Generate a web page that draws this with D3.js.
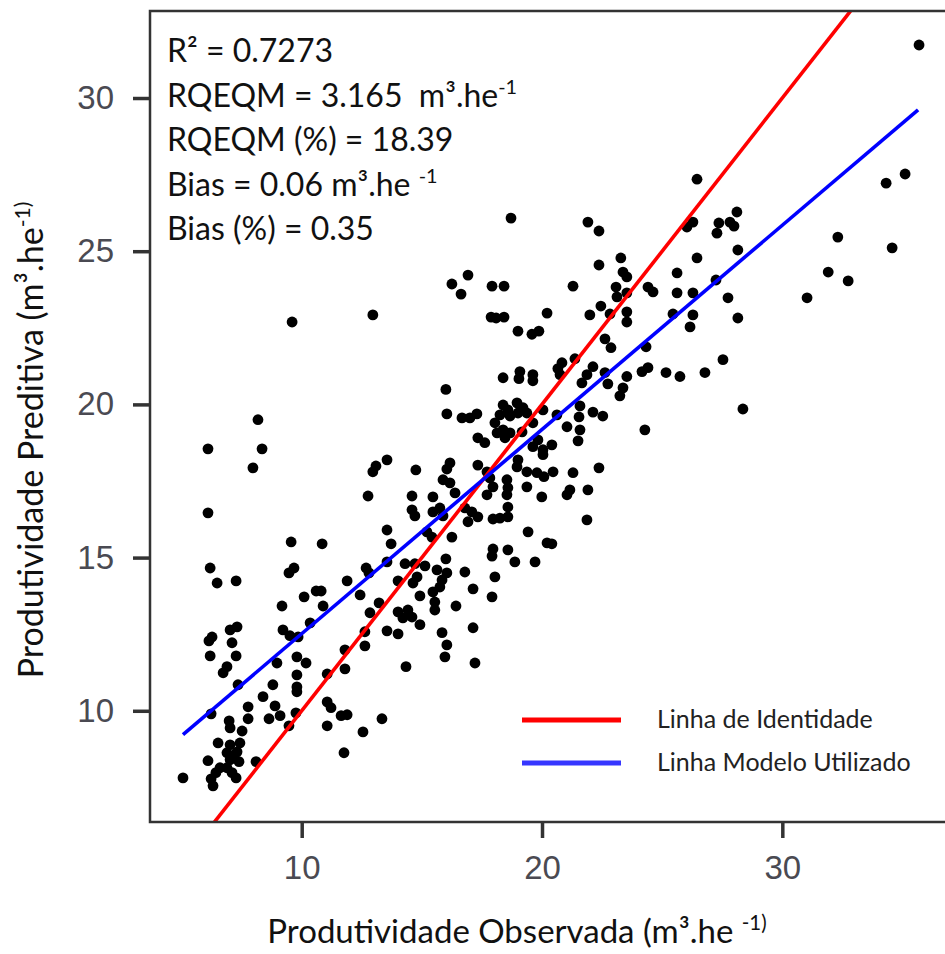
<!DOCTYPE html>
<html>
<head>
<meta charset="utf-8">
<script src="https://cdn.jsdelivr.net/npm/d3@7/dist/d3.min.js"></script>
<style>
  body { margin: 0; background: #fff; }
  text { white-space: pre; }
</style>
</head>
<body>
<script>
// tick values
const xTicks = [10, 20, 30];
const yTicks = [10, 15, 20, 25, 30];

const points = [
  [6.19,14.66],[6.48,14.17],[7.27,14.24],[9.68,14.66],[9.47,14.50],[10.10,13.72],[10.60,13.91],[10.81,13.91],
  [9.18,13.42],[10.89,13.42],[11.89,14.24],[12.68,14.66],[12.80,14.50],[13.55,14.86],[14.01,14.24],[12.43,13.78],
  [13.22,13.52],[12.84,13.20],[14.01,13.23],[12.63,12.58],[13.55,12.61],[14.01,12.51],[12.63,12.12],[7.31,12.74],
  [7.02,12.64],[6.27,12.41],[6.14,12.28],[7.10,12.22],[6.19,11.79],[7.27,11.79],[6.89,11.44],[6.73,11.24],
  [9.22,12.64],[9.51,12.45],[9.85,12.41],[10.35,12.87],[9.80,11.76],[10.18,11.56],[8.97,11.56],[9.80,11.17],
  [9.80,10.78],[9.80,10.62],[8.80,10.85],[8.39,10.46],[8.89,10.16],[8.64,9.74],[9.10,9.84],[9.76,9.93],
  [9.47,9.51],[11.06,11.20],[11.80,11.99],[11.80,11.37],[11.06,10.29],[11.22,10.10],[11.06,9.51],[11.64,9.84],
  [11.89,9.87],[12.55,9.31],[11.76,8.63],[13.34,9.74],[7.35,10.85],[7.77,10.13],[6.23,9.90],[6.98,9.67],
  [7.77,9.74],[7.02,9.44],[7.52,9.34],[6.52,8.95],[7.02,8.89],[7.43,8.95],[7.31,8.66],[6.89,8.63],
  [6.10,8.37],[7.02,8.40],[7.39,8.34],[8.10,8.34],[6.60,8.14],[6.89,8.14],[6.43,7.98],[7.10,7.98],
  [7.27,7.81],[6.23,7.78],[5.06,7.81],[6.31,7.55],[7.14,8.50],
  [9.60,22.69],[12.96,22.92],[8.18,19.50],[6.10,18.55],[8.35,18.55],[7.97,17.93],[6.10,16.46],[9.56,15.51],
  [10.85,15.45],[13.55,18.19],[13.09,17.99],[12.96,17.80],[12.76,17.01],[13.55,15.90],[13.72,15.45],
  [18.71,26.08],[21.91,25.95],[22.37,25.66],[23.28,24.78],[22.37,24.55],[23.37,24.32],[23.53,24.16],[16.92,24.22],
  [16.25,23.93],[16.63,23.60],[17.92,23.86],[18.42,23.86],[21.29,23.86],[23.08,23.83],[23.12,23.51],[23.53,23.64],
  [24.41,23.83],[17.88,22.85],[18.09,22.82],[18.42,22.85],[20.21,22.98],[19.00,22.39],[19.58,22.29],[19.87,22.39],
  [22.45,23.21],[21.99,22.92],[22.83,22.95],[23.53,23.02],[23.53,22.69],[22.62,22.14],[22.87,21.85],[21.37,21.49],
  [20.83,21.36],[20.66,21.17],[20.75,20.97],[22.12,21.23],[21.87,20.97],[22.62,21.04],[23.53,20.91],[24.16,21.07],
  [24.41,21.20],[18.38,20.87],[19.08,21.07],[19.04,20.84],[19.62,20.97],[19.62,20.77],
  [16.00,20.49],[21.66,20.70],[22.74,20.67],[23.37,20.54],[23.24,20.28],[16.04,19.69],[16.67,19.56],[17.00,19.56],
  [17.29,19.69],[18.38,19.98],[18.58,19.82],[18.96,20.05],[19.21,19.89],[18.25,19.66],[18.67,19.62],[19.00,19.72],
  [19.37,19.72],[20.04,19.82],[18.04,19.40],[18.38,19.17],[18.13,19.07],[18.67,19.07],[18.46,18.91],[19.17,19.10],
  [19.62,19.40],[17.33,18.91],[17.62,18.75],[20.62,19.66],[21.04,19.27],[21.58,19.95],[21.54,19.59],[22.12,19.75],
  [22.53,19.62],[21.58,19.17],[21.50,18.81],[24.28,19.17],[19.83,18.84],[19.62,18.62],[20.04,18.52],[20.41,18.68],
  [20.04,18.36],[14.75,17.86],[16.17,18.09],[16.04,17.89],[17.33,18.02],[17.71,17.80],[19.00,18.19],[18.96,17.96],
  [19.37,17.80],[19.79,17.77],[20.08,17.64],[20.46,17.80],[21.29,17.77],[22.37,17.93],[15.88,17.54],[16.17,17.44],
  [17.83,17.60],[17.96,17.31],[18.54,17.54],[18.58,17.28],[18.54,17.05],[19.37,17.31],[19.99,16.98],[21.16,17.21],
  [21.04,17.05],[21.91,17.21],[16.38,17.11],[17.71,17.05],[14.59,17.01],[15.46,16.98],[14.59,16.56],[14.71,16.36],
  [15.46,16.49],[15.75,16.62],[15.88,16.36],[16.79,16.62],[17.08,16.49],[17.33,16.33],[16.92,16.17],[17.96,16.26],
  [18.25,16.29],[18.58,16.33],[18.58,16.65],[21.87,16.23],[15.21,15.84],[15.42,15.67],[16.25,15.67],[19.42,15.84],
  [20.21,15.48],[20.41,15.45],[17.96,15.28],[17.92,15.05],[18.58,15.25],[18.87,14.86],[19.71,14.86],[16.00,14.96],
  [14.30,14.80],[14.71,14.80],[15.13,14.73],[15.63,14.60],[16.04,14.50],[16.79,14.53],[14.80,14.37],[14.63,14.17],
  [15.84,14.27],[15.75,14.04],[15.46,13.88],[14.92,13.75],[18.04,14.37],[17.13,13.98],[15.54,13.55],[15.54,13.29],
  [16.42,13.42],[17.92,13.72],[14.42,13.29],[14.59,13.06],[14.21,13.03],[14.92,12.81],[15.84,12.55],[17.13,12.71],
  [16.04,12.15],[15.96,11.76],[17.21,11.56],[14.34,11.44],
  [35.69,31.73],[26.45,27.35],[34.32,27.22],[35.11,27.52],[32.31,25.46],[34.57,25.11],[31.91,24.32],[32.74,24.03],
  [31.03,23.48],[26.03,25.79],[26.28,25.95],[28.11,26.28],[27.36,25.92],[27.28,25.59],[27.82,25.95],[27.99,25.82],
  [28.15,25.04],[26.45,24.78],[25.62,24.29],[27.24,24.06],[24.62,23.67],[25.62,23.64],[26.28,23.64],[27.74,23.48],
  [25.45,22.95],[26.28,22.92],[26.16,22.53],[28.15,22.82],[24.33,21.88],[25.16,21.04],[25.74,20.91],[26.78,21.04],
  [27.53,21.46],[28.36,19.85]
];

// fitted model line (predicted = a + b * observed) and its drawn extent
const fitIntercept = 5.85;
const fitSlope = 0.6666;
const fitRange = [5.06, 35.65];

// "^" marks the start of a superscript part
const statLines = [
  "R² = 0.7273",
  "RQEQM = 3.165  m³.he^-1",
  "RQEQM (%) = 18.39",
  "Bias = 0.06 m³.he ^-1",
  "Bias (%) = 0.35"
];

const legendLabels = ["Linha de Identidade", "Linha Modelo Utilizado"];
const legendColors = ["#ff0000", "#3636ff"];

const xTitle = "Produtividade Observada (m³.he ^-1)";
const yTitle = "Produtividade Preditiva (m³.he^-1)";

// layout
const width = 945, height = 954;
const plot = { left: 150, top: 11, right: 945, bottom: 822 };
const textFont = "Lato, 'Open Sans', sans-serif";
const tickFont = "'Liberation Sans', Arial, sans-serif";

const svg = d3.select("body").append("svg")
  .attr("width", width)
  .attr("height", height);

const x = d3.scaleLinear().domain([3.687, 36.77]).range([plot.left, plot.right]);
const y = d3.scaleLinear().domain([6.37, 32.84]).range([plot.bottom, plot.top]);

svg.append("clipPath").attr("id", "plot-clip")
  .append("rect")
  .attr("x", plot.left).attr("y", plot.top)
  .attr("width", plot.right - plot.left).attr("height", plot.bottom - plot.top);

// writes "abc^sup" as text with a raised tail
function addRichText(sel, str, size) {
  const parts = str.split("^");
  sel.append("tspan").text(parts[0]);
  if (parts.length > 1) {
    sel.append("tspan")
      .attr("font-size", size * 0.62)
      .attr("dy", -size * 0.38)
      .text(parts[1]);
    sel.append("tspan").attr("dy", size * 0.38).text("");
  }
}

// points
svg.append("g")
  .attr("clip-path", "url(#plot-clip)")
  .selectAll("circle")
  .data(points)
  .join("circle")
  .attr("cx", d => x(d[0]))
  .attr("cy", d => y(d[1]))
  .attr("r", 5.4)
  .attr("fill", "#000");

// identity line and model line
const lines = svg.append("g").attr("clip-path", "url(#plot-clip)");
const line = d3.line().x(d => x(d[0])).y(d => y(d[1]));
lines.append("path")
  .attr("d", line([[x.domain()[0], x.domain()[0]], [x.domain()[1], x.domain()[1]]]))
  .attr("stroke", "#ff0000")
  .attr("stroke-width", 3.6)
  .attr("fill", "none");
lines.append("path")
  .attr("d", line(fitRange.map(v => [v, fitIntercept + fitSlope * v])))
  .attr("stroke", "#0000ff")
  .attr("stroke-width", 3.6)
  .attr("fill", "none");

// frame (right side falls outside the picture)
svg.append("path")
  .attr("d", `M${plot.right + 10},${plot.top}H${plot.left}V${plot.bottom}H${plot.right + 10}`)
  .attr("fill", "none")
  .attr("stroke", "#333")
  .attr("stroke-width", 2.5);

// axes
const yAxis = svg.append("g")
  .attr("transform", `translate(${plot.left},0)`)
  .call(d3.axisLeft(y).tickValues(yTicks).tickSize(17).tickPadding(19));
const xAxis = svg.append("g")
  .attr("transform", `translate(0,${plot.bottom})`)
  .call(d3.axisBottom(x).tickValues(xTicks).tickSize(16).tickPadding(18));
[xAxis, yAxis].forEach(a => {
  a.select(".domain").remove();
  a.selectAll(".tick line").attr("stroke", "#333").attr("stroke-width", 3.5);
  a.selectAll(".tick text")
    .attr("fill", "#4a4a52")
    .attr("font-family", tickFont)
    .attr("font-size", 33);
});

// statistics block
const stats = svg.append("g").attr("font-family", textFont).attr("fill", "#111");
statLines.forEach((s, i) => {
  const t = stats.append("text")
    .attr("x", 167)
    .attr("y", 62 + i * 44.5)
    .attr("font-size", 32);
  addRichText(t, s, 32);
});

// legend
const legend = svg.append("g").attr("font-family", textFont);
legendLabels.forEach((lab, i) => {
  const yy = 720 + i * 43;
  legend.append("line")
    .attr("x1", 522).attr("x2", 621)
    .attr("y1", yy).attr("y2", yy)
    .attr("stroke", legendColors[i])
    .attr("stroke-width", 5);
  legend.append("text")
    .attr("x", 657).attr("y", yy + 8)
    .attr("font-size", 25)
    .attr("fill", "#222")
    .text(lab);
});

// axis titles
const xt = svg.append("text")
  .attr("x", 517).attr("y", 943)
  .attr("text-anchor", "middle")
  .attr("font-family", textFont)
  .attr("font-size", 33)
  .attr("fill", "#111");
addRichText(xt, xTitle, 33);

const yt = svg.append("text")
  .attr("transform", "translate(43,440) rotate(-90)")
  .attr("text-anchor", "middle")
  .attr("font-family", textFont)
  .attr("font-size", 34)
  .attr("fill", "#111");
addRichText(yt, yTitle, 34);
</script>
</body>
</html>
